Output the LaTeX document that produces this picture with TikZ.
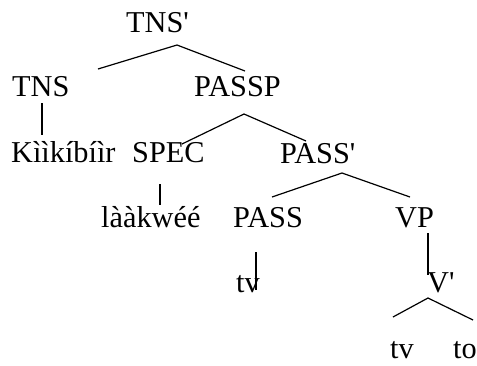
\documentclass[tikz,border=0pt]{standalone}
\usepackage{fontspec}
\setmainfont{Liberation Serif}
\begin{document}
\begin{tikzpicture}[x=1pt,y=-1pt,
  lbl/.style={anchor=base west,inner sep=0pt,font=\fontsize{30.3}{32}\selectfont},
  edge/.style={line width=1.2pt}]
\useasboundingbox (0,0) rectangle (477,365);
% labels
\node[lbl] (tnsbar) at (126,32) {TNS\textquotesingle};
\node[lbl] (tns) at (12,96) {TNS};
\node[lbl] (passp) at (194,96) {PASSP};
\node[lbl] (kii) at (11,162) {Kììkíbíìr};
\node[lbl] (spec) at (132,162) {SPEC};
\node[lbl] (passbar) at (280,163) {PASS\textquotesingle};
\node[lbl] (laa) at (101,227) {lààkwéé};
\node[lbl] (pass) at (233,227) {PASS};
\node[lbl] (vp) at (395,227) {VP};
\node[lbl] (tv1) at (236,292) {tv};
\node[lbl] (vbar) at (427,292) {V\textquotesingle};
\node[lbl] (tv2) at (390,358) {tv};
\node[lbl] (to) at (453,358) {to};
% connector end points
\coordinate (a1) at (177,45);
\coordinate (a1l) at (98,69);
\coordinate (a1r) at (245,71);
\coordinate (b1) at (42,103);
\coordinate (b2) at (42,135);
\coordinate (a2) at (244,114);
\coordinate (a2l) at (182,144);
\coordinate (a2r) at (306,141);
\coordinate (c1) at (160,184);
\coordinate (c2) at (160,205);
\coordinate (a3) at (342,173);
\coordinate (a3l) at (272,197);
\coordinate (a3r) at (410,197);
\coordinate (d1) at (256,252);
\coordinate (d2) at (256,290);
\coordinate (e1) at (428,233);
\coordinate (e2) at (428,275);
\coordinate (a4) at (428,298);
\coordinate (a4l) at (393,317);
\coordinate (a4r) at (473,320);
% connectors
\draw[edge] (a1l) -- (a1) -- (a1r);
\draw[edge] (b1) -- (b2);
\draw[edge] (a2l) -- (a2) -- (a2r);
\draw[edge] (c1) -- (c2);
\draw[edge] (a3l) -- (a3) -- (a3r);
\draw[edge] (d1) -- (d2);
\draw[edge] (e1) -- (e2);
\draw[edge] (a4l) -- (a4) -- (a4r);
\end{tikzpicture}
\end{document}
